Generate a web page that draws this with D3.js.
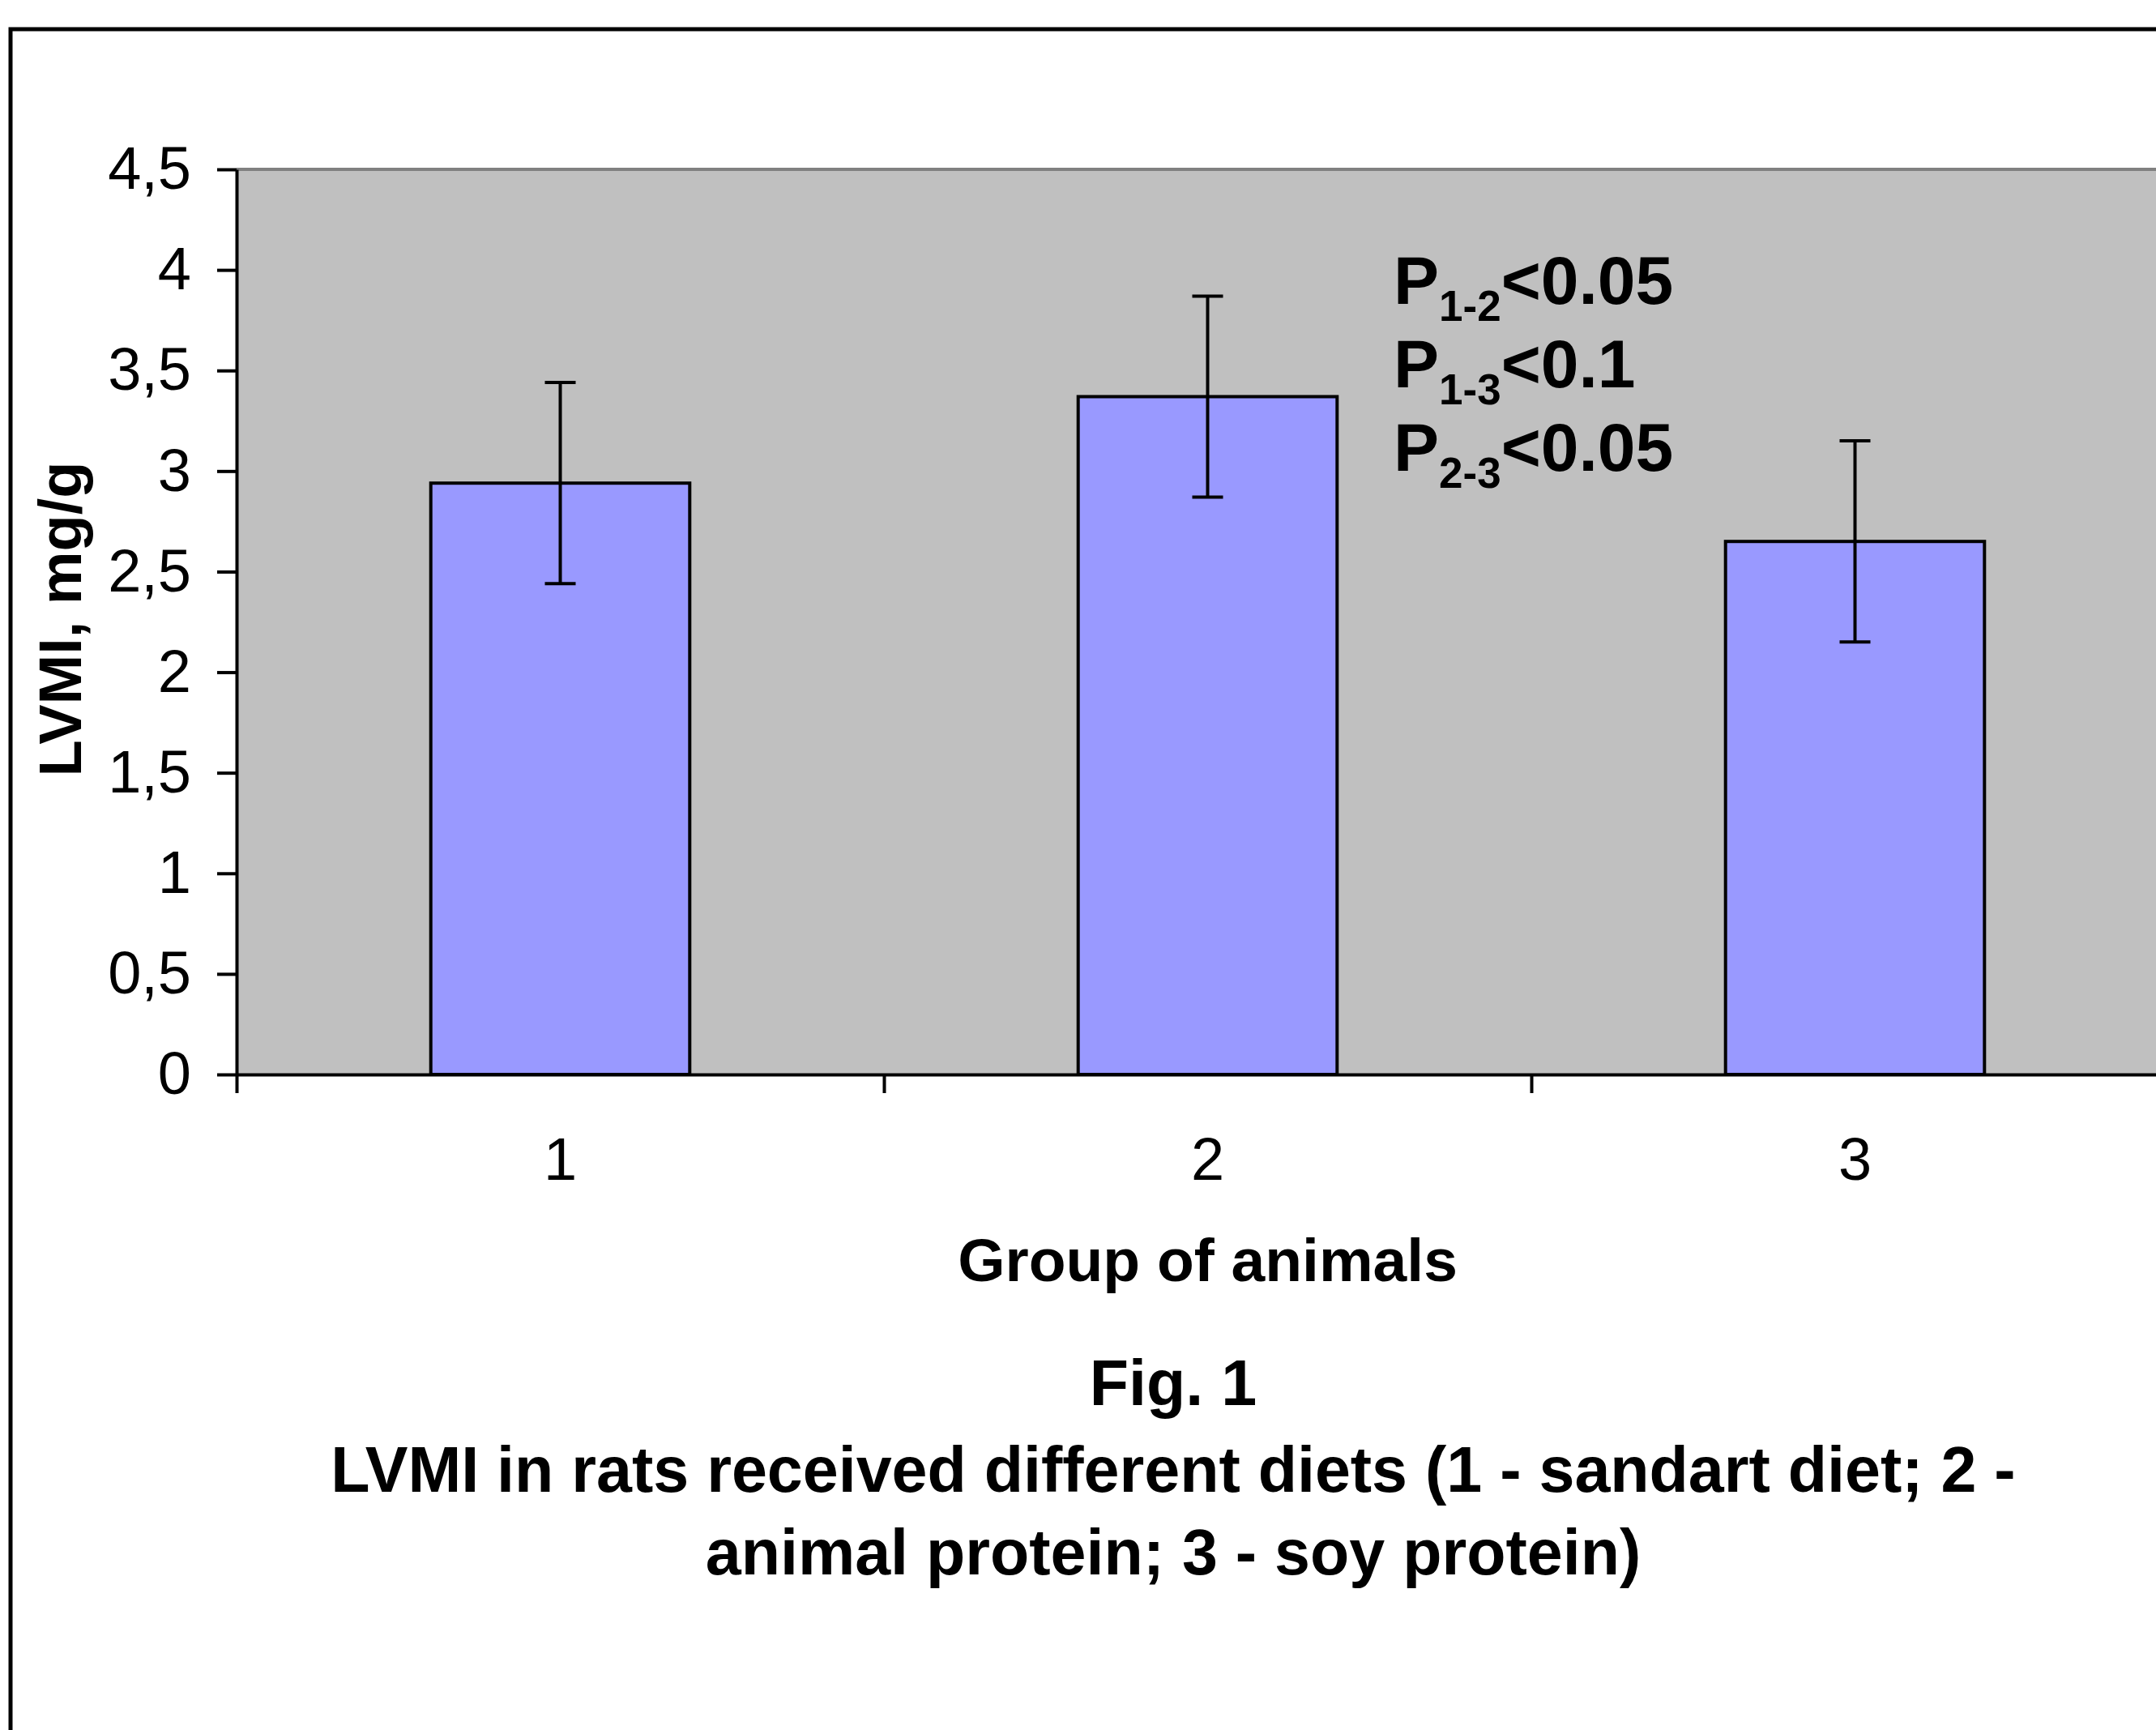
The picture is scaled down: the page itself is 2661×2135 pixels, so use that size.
<!DOCTYPE html>
<html>
<head>
<meta charset="utf-8">
<script src="https://cdn.jsdelivr.net/npm/d3@7"></script>
<style>
  body { margin: 0; background: #fff; }
  text { font-family: "Liberation Sans", Arial, sans-serif; }
</style>
</head>
<body>
<div id="canvas"></div>
<script>
const groups = ["1", "2", "3"];
const means = [2.94, 3.37, 2.65];
const errors = [0.5, 0.5, 0.5];
const yTicks = [0, 0.5, 1, 1.5, 2, 2.5, 3, 3.5, 4, 4.5];
const pLabels = [
  { sub: "1-2", rest: "<0.05" },
  { sub: "1-3", rest: "<0.1" },
  { sub: "2-3", rest: "<0.05" }
];
const captionLines = [
  "Fig. 1",
  "LVMI in rats received different diets (1 - sandart diet; 2 -",
  "animal protein; 3 - soy protein)"
];

const width = 2661;
const height = 2135;
const margin = { top: 209, left: 292 };
const iwidth = 2397;  // plot runs past the right edge, as in the picture
const iheight = 1117;

const svg = d3
  .select("#canvas")
  .append("svg")
  .attr("width", width)
  .attr("height", height)
  .style("display", "block");

svg.append("rect")
  .attr("width", width)
  .attr("height", height)
  .attr("fill", "#fff");

// outer frame
svg.append("rect")
  .attr("x", 13)
  .attr("y", 36)
  .attr("width", 2800)
  .attr("height", 2300)
  .attr("fill", "none")
  .attr("stroke", "#000")
  .attr("stroke-width", 5);

const g = svg
  .append("g")
  .attr("transform", `translate(${margin.left},${margin.top})`);

const y = d3.scaleLinear().domain([0, 4.5]).range([iheight, 0]);
const x = d3.scaleBand().domain(groups).range([0, iwidth]).padding(0);
const xEdge = d3.scaleLinear().domain([0, groups.length]).range([0, iwidth]);

// plot area
g.append("rect")
  .attr("width", iwidth)
  .attr("height", iheight)
  .attr("fill", "#c0c0c0");

g.append("line")
  .attr("x1", 0)
  .attr("x2", iwidth)
  .attr("y1", y(4.5))
  .attr("y2", y(4.5))
  .attr("stroke", "#808080")
  .attr("stroke-width", 4);

// bars (Excel style, gap width 150%)
const barW = x.bandwidth() * 0.4;
g.selectAll("rect.bar")
  .data(groups)
  .enter()
  .append("rect")
  .attr("class", "bar")
  .attr("x", d => x(d) + (x.bandwidth() - barW) / 2)
  .attr("y", (d, i) => y(means[i]))
  .attr("width", barW)
  .attr("height", (d, i) => iheight - y(means[i]))
  .attr("fill", "#9999ff")
  .attr("stroke", "#000")
  .attr("stroke-width", 4);

// error bars
const capW = 38;
const err = g.selectAll("g.err")
  .data(groups)
  .enter()
  .append("g")
  .attr("class", "err")
  .attr("stroke", "#000")
  .attr("stroke-width", 4);

err.append("line")
  .attr("x1", d => x(d) + x.bandwidth() / 2)
  .attr("x2", d => x(d) + x.bandwidth() / 2)
  .attr("y1", (d, i) => y(means[i] + errors[i]))
  .attr("y2", (d, i) => y(means[i] - errors[i]));

[1, -1].forEach(s => {
  err.append("line")
    .attr("x1", d => x(d) + x.bandwidth() / 2 - capW / 2)
    .attr("x2", d => x(d) + x.bandwidth() / 2 + capW / 2)
    .attr("y1", (d, i) => y(means[i] + s * errors[i]))
    .attr("y2", (d, i) => y(means[i] + s * errors[i]));
});

// y axis
const yAxis = g.append("g")
  .call(d3.axisLeft(y)
    .tickValues(yTicks)
    .tickSize(24)
    .tickSizeOuter(0)
    .tickPadding(32)
    .tickFormat(d => String(d).replace(".", ",")));
yAxis.select(".domain").attr("stroke-width", 4);
yAxis.selectAll(".tick line").attr("stroke-width", 4);
yAxis.selectAll("text")
  .attr("font-size", 74)
  .attr("fill", "#000")
  .style("font-family", "'Liberation Sans', Arial, sans-serif");

// x axis: ticks at the category edges, labels at the centres
const xTickAxis = g.append("g")
  .attr("transform", `translate(0,${iheight})`)
  .call(d3.axisBottom(xEdge)
    .tickValues(d3.range(groups.length + 1))
    .tickSize(23)
    .tickSizeOuter(0)
    .tickFormat(""));
xTickAxis.select(".domain").attr("stroke-width", 4);
xTickAxis.selectAll(".tick line").attr("stroke-width", 4);

const xLabelAxis = g.append("g")
  .attr("transform", `translate(0,${iheight})`)
  .call(d3.axisBottom(x).tickSize(0).tickPadding(77));
xLabelAxis.select(".domain").remove();
xLabelAxis.selectAll("text")
  .attr("font-size", 74)
  .attr("fill", "#000")
  .style("font-family", "'Liberation Sans', Arial, sans-serif");

// axis titles
svg.append("text")
  .attr("transform", "translate(100,764) rotate(-90)")
  .attr("text-anchor", "middle")
  .attr("font-size", 74)
  .attr("font-weight", "bold")
  .text("LVMI, mg/g");

svg.append("text")
  .attr("x", margin.left + x("2") + x.bandwidth() / 2)
  .attr("y", 1581)
  .attr("text-anchor", "middle")
  .attr("font-size", 75)
  .attr("font-weight", "bold")
  .text("Group of animals");

// significance notes
const notes = g.selectAll("text.note")
  .data(pLabels)
  .enter()
  .append("text")
  .attr("class", "note")
  .attr("x", 1428)
  .attr("y", (d, i) => 166 + i * 103)
  .attr("font-size", 84)
  .attr("font-weight", "bold");
notes.append("tspan").text("P");
notes.append("tspan").attr("font-size", 53).attr("dy", 21).text(d => d.sub);
notes.append("tspan").attr("dy", -21).text(d => d.rest);

// caption
svg.selectAll("text.caption")
  .data(captionLines)
  .enter()
  .append("text")
  .attr("class", "caption")
  .attr("x", 1448)
  .attr("y", (d, i) => [1734, 1841, 1943][i])
  .attr("text-anchor", "middle")
  .attr("font-size", 79)
  .attr("font-weight", "bold")
  .text(d => d);
</script>
</body>
</html>
